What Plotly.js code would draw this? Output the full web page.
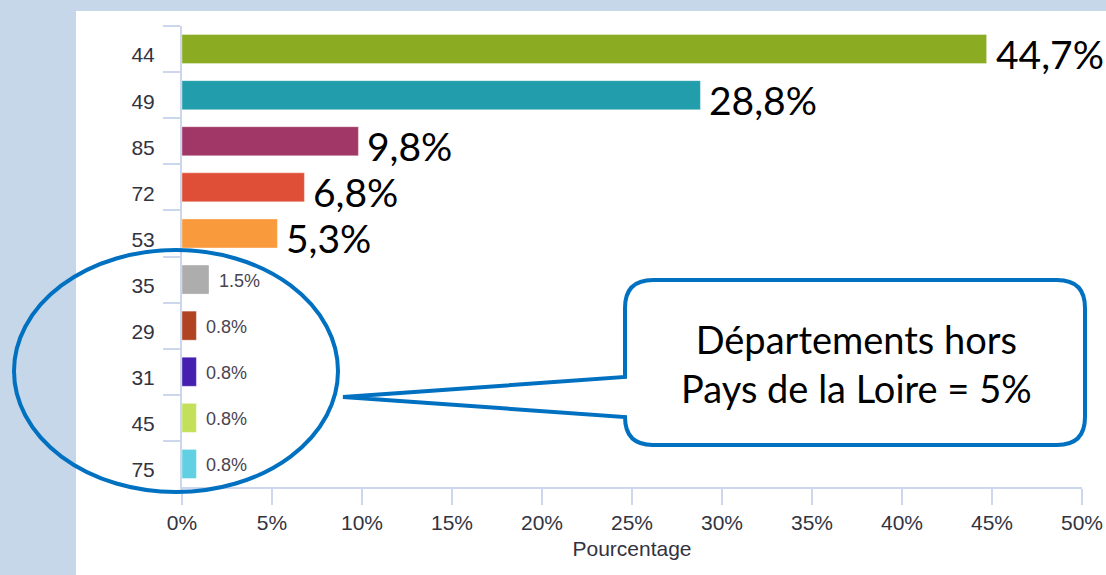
<!DOCTYPE html>
<html>
<head>
<meta charset="utf-8">
<script src="https://cdn.plot.ly/plotly-3.0.1.min.js"></script>
<style>html,body{margin:0;padding:0;background:#c5d7e9;}#chart{width:1106px;height:575px;}</style>
</head>
<body>
<div id="chart"></div>
<script>
// ---- data ----
var departements = ["44", "49", "85", "72", "53", "35", "29", "31", "45", "75"];
var pourcentages = [44.7, 28.8, 9.8, 6.8, 5.3, 1.5, 0.8, 0.8, 0.8, 0.8];
var etiquettes = ["44,7%", "28,8%", "9,8%", "6,8%", "5,3%", "1.5%", "0.8%", "0.8%", "0.8%", "0.8%"];
var couleurs = ["#8aab22", "#219dac", "#a13766", "#df4f37", "#f99a3d", "#adadad", "#b04422", "#4520b0", "#c4e05a", "#60d0e2"];
var xTicks = [0, 5, 10, 15, 20, 25, 30, 35, 40, 45, 50];
var xTickText = ["0%", "5%", "10%", "15%", "20%", "25%", "30%", "35%", "40%", "45%", "50%"];
var titreX = "Pourcentage";
var bulle = "Départements hors<br>Pays de la Loire = 5%";
var grandes = 5; // first five labels drawn large

// ---- layout geometry ----
var W = 1106, H = 575, mL = 182, mR = 24, mT = 26, mB = 88;
var pw = W - mL - mR, ph = H - mT - mB;
function px(x) { return (x - mL) / pw; }
function py(y) { return 1 - (y - mT) / ph; }

var trace = {
  type: "bar",
  orientation: "h",
  y: departements,
  x: pourcentages,
  marker: { color: couleurs, line: { color: "rgba(255,255,255,0.35)", width: 1 } },
  hoverinfo: "none"
};

// on a category axis, annotation positions are category indices
var annotations = pourcentages.map(function (v, i) {
  var big = i < grandes;
  return {
    x: v, y: i, xref: "x", yref: "y",
    text: etiquettes[i], showarrow: false,
    xanchor: "left", yanchor: "middle",
    xshift: big ? 7 : 8, yshift: big ? -5 : -1,
    font: big ? { family: "Lato, 'Open Sans', sans-serif", size: 39, color: "#000" }
              : { family: "'Liberation Sans', Arial, sans-serif", size: 18, color: "#4a4450" }
  };
});
annotations.push({
  xref: "paper", yref: "paper", x: px(856), y: py(363),
  text: bulle, showarrow: false, xanchor: "center", yanchor: "middle",
  align: "center",
  font: { family: "Lato, 'Open Sans', sans-serif", size: 38, color: "#000" }
});

// callout path
var L = 625, R = 1085, T = 280, B = 445, r = 28;
function P(x, y) { return px(x) + "," + py(y); }
var path = "M " + P(L + r, T) + " L " + P(R - r, T) + " Q " + P(R, T) + " " + P(R, T + r) +
  " L " + P(R, B - r) + " Q " + P(R, B) + " " + P(R - r, B) +
  " L " + P(L + r, B) + " Q " + P(L, B) + " " + P(L, B - r) +
  " L " + P(L, 417) + " L " + P(343, 397) + " L " + P(L, 377) +
  " L " + P(L, T + r) + " Q " + P(L, T) + " " + P(L + r, T) + " Z";

var shapes = [
  { type: "rect", xref: "paper", yref: "paper", x0: px(76), x1: px(1110), y0: py(11), y1: py(580),
    fillcolor: "#ffffff", line: { width: 0 }, layer: "below" },
  { type: "circle", xref: "paper", yref: "paper", x0: px(14), x1: px(338), y0: py(250), y1: py(492),
    line: { color: "#0070c0", width: 4 }, fillcolor: "rgba(0,0,0,0)", layer: "above" },
  { type: "path", xref: "paper", yref: "paper", path: path,
    line: { color: "#0070c0", width: 4 }, fillcolor: "#ffffff", layer: "above" }
];

var axisFont = { family: "'Liberation Sans', Arial, sans-serif", size: 21, color: "#333340" };

var layout = {
  width: W, height: H,
  margin: { l: mL, r: mR, t: mT, b: mB, pad: 0 },
  paper_bgcolor: "#c5d7e9",
  plot_bgcolor: "rgba(0,0,0,0)",
  showlegend: false,
  bargap: 0.37,
  xaxis: {
    range: [0, 50], tickvals: xTicks, ticktext: xTickText,
    showgrid: false, zeroline: false,
    showline: true, linecolor: "#ccd6ec", linewidth: 2,
    ticks: "outside", ticklen: 16, tickcolor: "#ccd6ec", tickwidth: 2,
    tickfont: axisFont,
    title: { text: titreX, font: axisFont, standoff: 8 },
    fixedrange: true
  },
  yaxis: {
    type: "category", categoryorder: "array", categoryarray: departements,
    range: [departements.length - 0.5, -0.5], autorange: false,
    showgrid: false, zeroline: false,
    showline: true, linecolor: "#ccd6ec", linewidth: 2,
    ticks: "outside", tickson: "boundaries", ticklen: 17, tickcolor: "#ccd6ec", tickwidth: 2,
    ticklabelstandoff: 21,
    ticklabelshift: -6,
    tickfont: axisFont,
    fixedrange: true
  },
  shapes: shapes,
  annotations: annotations
};

Plotly.newPlot("chart", [trace], layout, { displayModeBar: false, staticPlot: true });
</script>
</body>
</html>
